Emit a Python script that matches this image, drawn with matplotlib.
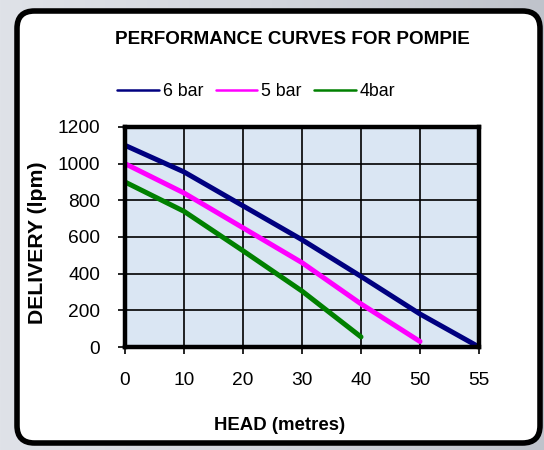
import numpy as np
import matplotlib
matplotlib.use("Agg")
import matplotlib.pyplot as plt
from matplotlib.patches import FancyBboxPatch

plt.rcParams['font.family'] = ['Liberation Sans', 'DejaVu Sans']

# data
head_labels = ["0", "10", "20", "30", "40", "50", "55"]
bar6 = [1100, 955, 770, 585, 385, 180, 0]
bar5 = [1000, 840, 650, 460, 235, 30, np.nan]
bar4 = [900, 740, 525, 305, 55, np.nan, np.nan]
series_names = ["6 bar", "5 bar", "4bar"]
series_colors = ["#000080", "#ff00ff", "#008000"]

fig = plt.figure(figsize=(5.44, 4.5), dpi=100)

# grey gradient backdrop
bg = fig.add_axes([0, 0, 1, 1], zorder=-10)
grad = np.linspace(0, 1, 256).reshape(1, -1)
bg.imshow(grad, aspect="auto", cmap=matplotlib.colors.LinearSegmentedColormap.from_list(
    "g", ["#dfe2e8", "#d2d5dc", "#bfc3cb"]), extent=[0, 1, 0, 1])
bg.set_xlim(0, 1)
bg.set_ylim(0, 1)
bg.axis("off")
# white rounded card
card = FancyBboxPatch((17 / 544, 7 / 450), 523 / 544, 432 / 450,
                      boxstyle="round,pad=0,rounding_size=0.032",
                      transform=bg.transAxes, facecolor="white",
                      edgecolor="black", linewidth=4, mutation_aspect=544 / 450)
bg.add_patch(card)

ax = fig.add_axes([125 / 544, 1 - 347 / 450, 354 / 544, 220 / 450])
ax.set_facecolor("#dae6f3")
x = np.arange(len(head_labels))
for vals, name, col in zip([bar6, bar5, bar4], series_names, series_colors):
    ax.plot(x, vals, color=col, linewidth=3.6, label=name, solid_capstyle="round")

ax.set_xlim(0, len(head_labels) - 1)
ax.set_ylim(0, 1200)
ax.set_yticks(range(0, 1201, 200))
ax.set_xticks(x)
ax.set_xticklabels(head_labels)
ax.grid(True, color="black", linewidth=1.2)
ax.set_axisbelow(True)
for s in ax.spines.values():
    s.set_linewidth(3.2)
ax.tick_params(axis="both", direction="out", length=5, width=1.2, labelsize=13.8)
ax.tick_params(axis="x", pad=13)
ax.tick_params(axis="y", pad=13)

# axis titles
fig.text(280 / 544, 1 - 425 / 450, "HEAD (metres)", fontsize=13.4,
         fontweight="bold", ha="center", va="center")
fig.text(38 / 544, 1 - 243 / 450, "DELIVERY (lpm)", fontsize=15.3, fontweight="bold",
         rotation=90, ha="center", va="center")

fig.text(292 / 544, 1 - 40 / 450, "PERFORMANCE CURVES FOR POMPIE", fontsize=13.6,
         fontweight="bold", ha="center", va="center")

leg = fig.legend(loc="center", bbox_to_anchor=(256 / 544, 1 - 92 / 450), ncol=3,
                 frameon=False, fontsize=12.8, handlelength=2.35, handletextpad=0.2,
                 columnspacing=0.7)
for h in leg.get_lines():
    h.set_linewidth(1.8)

fig.savefig("out.png", dpi=100)
